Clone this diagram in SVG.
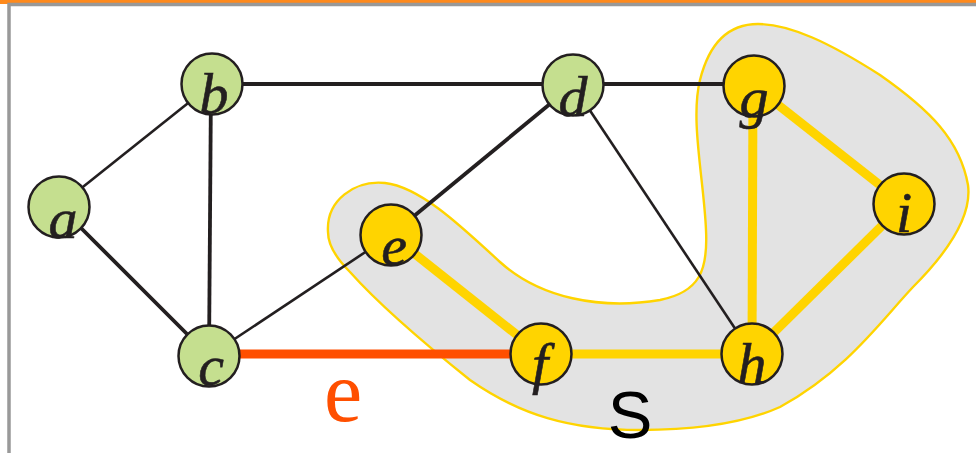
<svg xmlns="http://www.w3.org/2000/svg" width="976" height="453" viewBox="0 0 976 453">
<style>
.e{stroke:#231f20;fill:none;stroke-linecap:butt}
.t{stroke-width:2.6}
.k{stroke-width:3.8}
.y{stroke:#ffd400;stroke-width:9;fill:none}
.o{stroke:#ff4f00;stroke-width:9;fill:none}
.g circle{fill:#c5df8f;stroke:#231f20;stroke-width:2.5}
.n circle{fill:#ffd400;stroke:#231f20;stroke-width:2.5}
.l{font-family:"Liberation Serif","DejaVu Serif",serif;font-style:italic;font-size:58px;fill:#231f20;stroke:#231f20;stroke-width:0.6;text-anchor:middle}
</style>
<rect x="0" y="0" width="976" height="4" fill="#ff8a1c"/>
<path d="M9 453 V4.5 H976" fill="none" stroke="#999" stroke-width="3.5"/>
<g id="set-S">
<path d="M328 232 C326 200 355 180 385 183 C420 187 460 225 500 262 C540 298 600 310 660 300 C700 292 708 270 706 230 C704 180 690 120 700 80 C710 40 730 24 758 24 C790 24 830 43 880 75 C930 110 960 140 968 185 C972 215 950 250 913 287 C880 322 847 370 780 407 C740 425 690 430 640 430 C570 430 520 415 470 380 C420 340 375 300 350 272 C336 258 328 245 328 232 Z" fill="#e3e3e3" stroke="#ffd400" stroke-width="2.4"/>
</g>
<g id="edges">
<line class="e t" x1="59" y1="206" x2="212" y2="84"/>
<line class="e k" x1="59" y1="206" x2="209" y2="356"/>
<line class="e k" x1="211" y1="84" x2="209" y2="356"/>
<line class="e k" x1="212" y1="84" x2="573" y2="84"/>
<line class="e t" x1="209" y1="356" x2="391" y2="235"/>
<line class="e k" x1="391" y1="235" x2="573" y2="85"/>
<line class="e k" x1="573" y1="84" x2="754" y2="84"/>
<line class="e t" x1="573" y1="85" x2="752" y2="354"/>
<line class="o" x1="209" y1="354" x2="541" y2="354"/>
<line class="y" x1="391" y1="235" x2="541" y2="354"/>
<line class="y" x1="541" y1="354" x2="752" y2="354"/>
<line class="y" x1="753" y1="86" x2="752" y2="354"/>
<line class="y" x1="754" y1="86" x2="904" y2="204"/>
<line class="y" x1="752" y1="354" x2="904" y2="204"/>
</g>
<g id="a" class="g"><circle cx="59" cy="207" r="30.5"/><text class="l" x="63" y="238">a</text></g>
<g id="b" class="g"><circle cx="212" cy="84" r="30.5"/><text class="l" x="214" y="113">b</text></g>
<g id="c" class="g"><circle cx="209" cy="356" r="30.5"/><text class="l" x="211" y="385">c</text></g>
<g id="d" class="g"><circle cx="573" cy="85" r="30.5"/><text class="l" x="573" y="116">d</text></g>
<g id="e" class="n"><circle cx="391" cy="235" r="30.5"/><text class="l" x="394" y="265">e</text></g>
<g id="f" class="n"><circle cx="541" cy="354" r="30.5"/><text class="l" x="540" y="383">f</text></g>
<g id="g" class="n"><circle cx="754" cy="86" r="30.5"/><text class="l" x="754" y="117">g</text></g>
<g id="h" class="n"><circle cx="752" cy="354" r="30.5"/><text class="l" x="752" y="383">h</text></g>
<g id="i" class="n"><circle cx="904" cy="204" r="30.5"/><text class="l" x="904" y="232">i</text></g>
<text x="343" y="421" font-family="Liberation Serif,serif" font-size="86" fill="#ff4f00" text-anchor="middle">e</text>
<text x="630" y="438" font-family="Liberation Sans,Arial,sans-serif" font-size="67" fill="#000" text-anchor="middle">S</text>
</svg>
